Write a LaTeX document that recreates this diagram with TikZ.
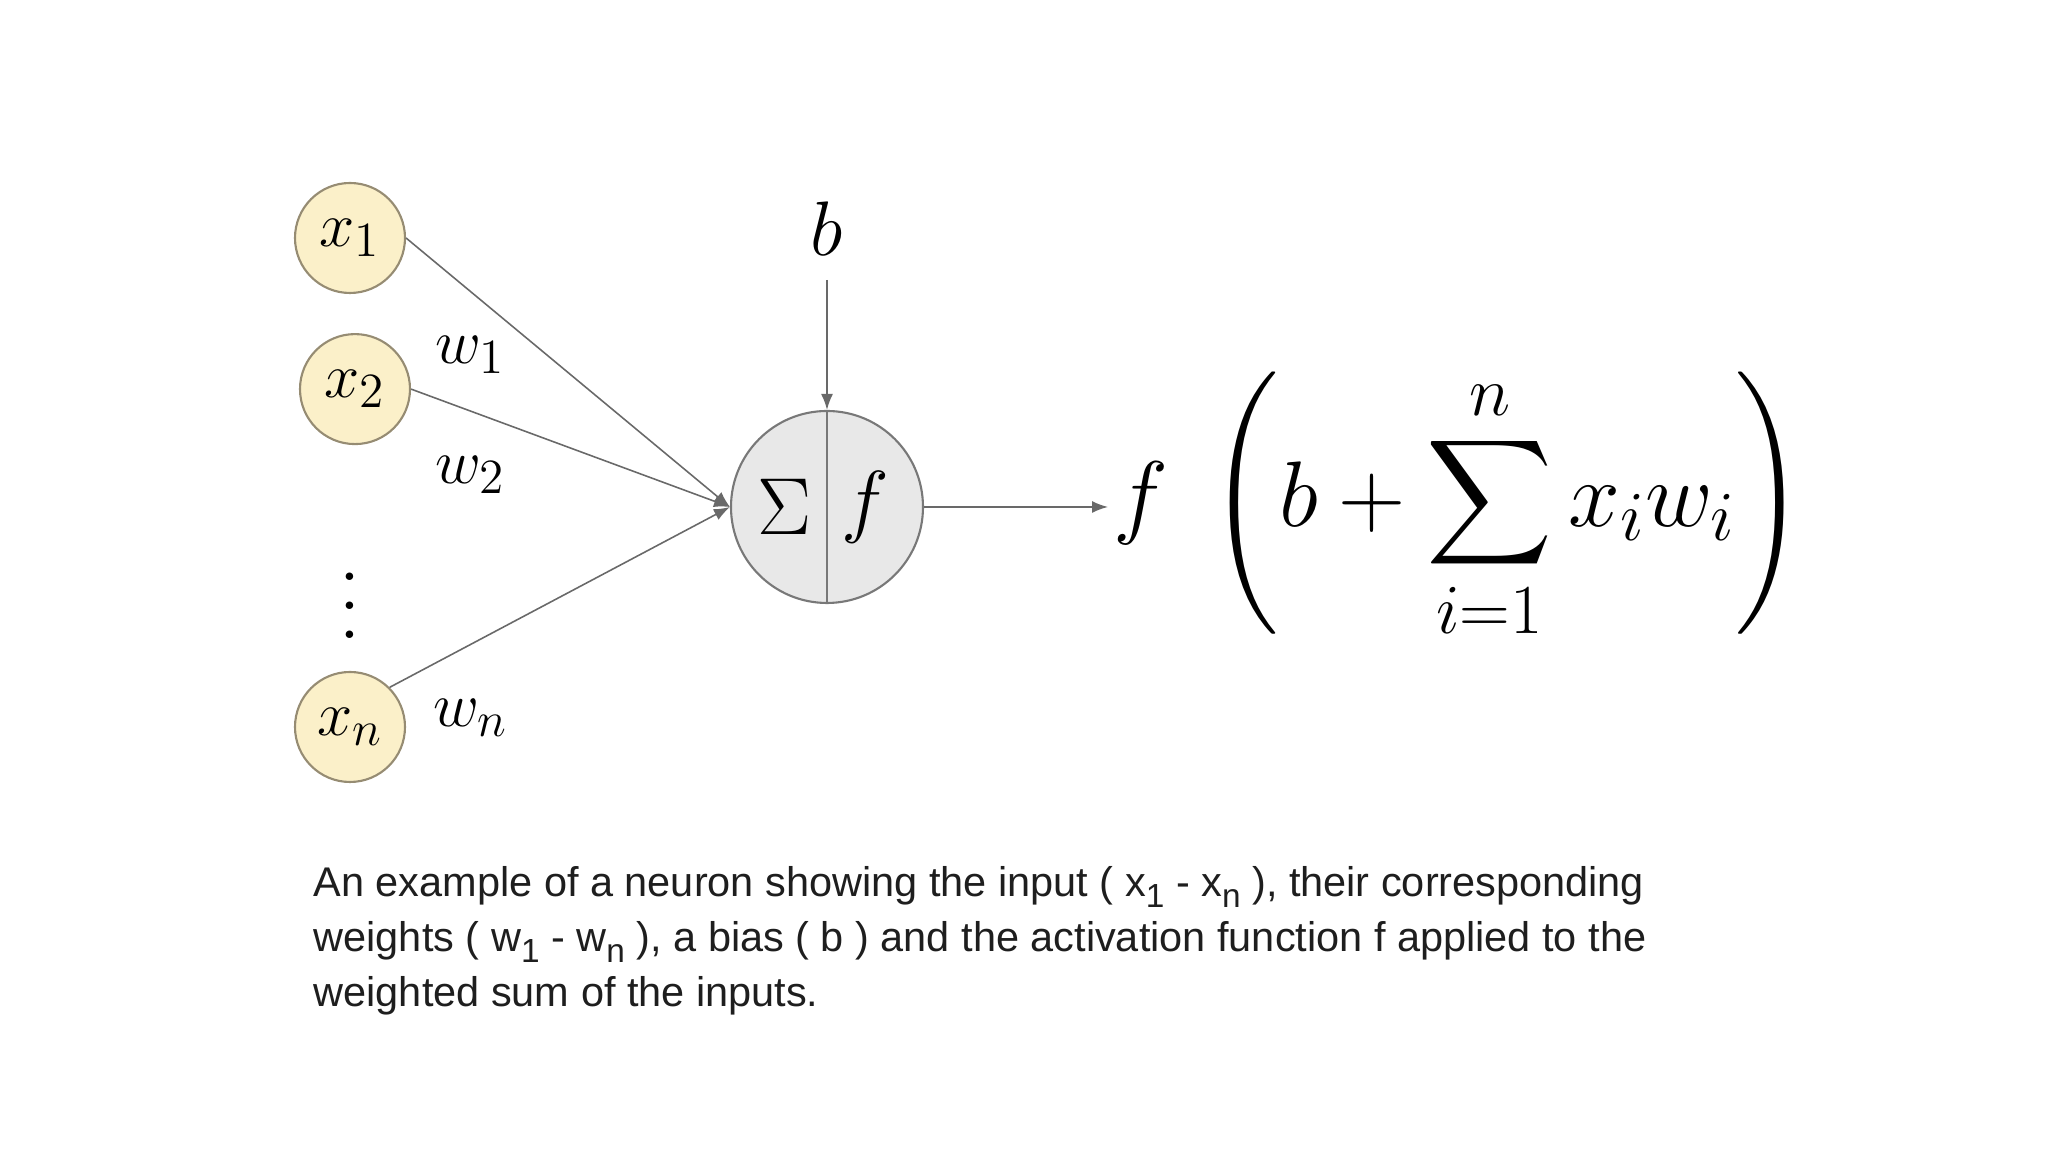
\RequirePackage{fix-cm}
\documentclass[tikz,border=0pt]{standalone}
\usepackage{amsmath}
\usepackage{fontspec}
\setsansfont{Liberation Sans}
\usetikzlibrary{arrows.meta,positioning}
\DeclareMathSizes{18}{18}{14}{10}
\DeclareMathSizes{26.5}{26.5}{20}{15}
\definecolor{inputFill}{RGB}{251,240,201}
\definecolor{inputLine}{RGB}{150,140,115}
\definecolor{neuronFill}{RGB}{232,232,232}
\definecolor{neuronLine}{RGB}{120,120,120}
\definecolor{wireInk}{RGB}{105,105,105}
\definecolor{capInk}{RGB}{30,30,30}
\newcommand{\capsub}[1]{\raisebox{-0.5ex}{\fontsize{9.5}{9.5}\selectfont #1}}
\tikzset{
  inbox/.style={circle, draw=inputLine, fill=inputFill, line width=0.6pt, minimum size=1.1cm, inner sep=0pt, font=\fontsize{18}{20}\selectfont},
  wlabel/.style={anchor=west, inner sep=0pt, font=\fontsize{18}{20}\selectfont},
  neuron/.style={circle, draw=neuronLine, fill=neuronFill, line width=0.6pt, minimum size=1.92cm, inner sep=0pt},
  inlabel/.style={inner sep=0pt, font=\fontsize{23}{26}\selectfont},
  capbox/.style={anchor=north west, inner sep=0pt, align=left, text=capInk, font=\sffamily\fontsize{11.8}{15.6}\selectfont},
  wire/.style={-{Latex[length=1.6mm,width=1.2mm]}, line width=0.45pt, draw=wireInk}
}
\begin{document}
\begin{tikzpicture}
  \useasboundingbox (0,0) rectangle (20.48,11.52);
  % inputs
  \node[inbox] (x1) at (3.50,9.14) {$x_1$};
  \node[inbox, below=0.39cm of x1, xshift=0.05cm] (x2) {$x_2$};
  \node[inbox] (xn) at (3.50,4.25) {$x_n$};
  \node[align=center, inner sep=0pt, font=\fontsize{26}{8.2}\selectfont] (dots) at (3.50,5.46) {.\\.\\.};
  % weights
  \node[wlabel] (w1) at (4.35,7.97) {$w_1$};
  \node[wlabel] (w2) at (4.35,6.77) {$w_2$};
  \node[wlabel] (wn) at (4.33,4.34) {$w_n$};
  % neuron
  \node[neuron] (sum) at (8.27,6.45) {};
  \draw[neuronLine, line width=0.6pt] (sum.north) -- (sum.south);
  \node[inlabel] (sig) at ([xshift=-0.43cm]sum.center) {$\Sigma$};
  \node[inlabel] (act) at ([xshift=0.38cm]sum.center) {$f$};
  \node[above=1.30cm of sum, inner sep=0.24cm, font=\fontsize{22}{26}\selectfont] (bias) {$b$};
  % output
  \node[anchor=west, inner sep=0.05cm, font=\fontsize{26.5}{30}\selectfont] (out) at (11.08,6.45)
    {$\displaystyle f\;\left(b+\sum_{i=1}^{n}x_iw_i\right)$};
  % caption
  \node[capbox] (cap) at (3.13,2.86) {An example of a neuron showing the input ( x\capsub{1} - x\capsub{n} ), their corresponding\\
    weights ( w\capsub{1} - w\capsub{n} ), a bias ( b ) and the activation function f applied to the\\
    weighted sum of the inputs.};
  % connectors
  \draw[wire] (x1.east) -- (sum.west);
  \draw[wire] (x2.east) -- (sum.west);
  \draw[wire] (xn.north east) -- (sum.west);
  \draw[wire] (bias) -- (sum.north);
  \draw[wire] (sum) -- (out);
\end{tikzpicture}
\end{document}
